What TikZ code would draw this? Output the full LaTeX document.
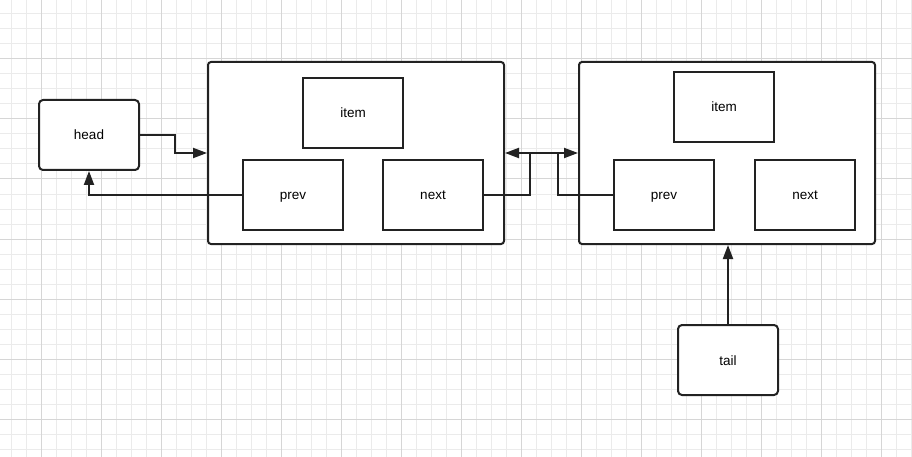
\documentclass[tikz,border=0pt]{standalone}
\usepackage{fontspec}
\setmainfont{Liberation Sans}
\usetikzlibrary{arrows.meta}

\definecolor{gridminor}{HTML}{EBEBEB}
\definecolor{gridmajor}{HTML}{D6D6D6}
\definecolor{ink}{HTML}{222222}

\tikzset{
  cell/.style={draw=ink,fill=white,line width=2pt,minimum width=100pt,minimum height=70pt,inner sep=0pt,
    text height=12pt,text depth=2pt,font=\fontsize{13.5}{15}\selectfont},
  ends/.style={cell,rounded corners=4pt},
  frame/.style={draw=ink,fill=white,line width=2pt,minimum width=296pt,minimum height=182pt,inner sep=0pt,rounded corners=3pt},
  link/.style={draw=ink,line width=2pt,-{Triangle[length=14pt,width=10pt]}}
}

\begin{document}
\begin{tikzpicture}[x=1pt,y=-1pt]
        \useasboundingbox (0,0) rectangle (912,457);
        \fill[white] (0,0) rectangle (912,457);
        % grid
        \foreach \gx in {11,26,...,911} \draw[gridminor,line width=1pt] (\gx,0) -- (\gx,457);
        \foreach \gy in {14,29,...,456} \draw[gridminor,line width=1pt] (0,\gy) -- (912,\gy);
        \foreach \gx in {41,101,...,911} \draw[gridmajor,line width=1pt] (\gx,0) -- (\gx,457);
        \foreach \gy in {59,119,...,456} \draw[gridmajor,line width=1pt] (0,\gy) -- (912,\gy);

        \node[frame] (box1) at (356,153) {};
        \node[frame] (box2) at (727,153) {};
        \node[ends] (head) at (89,135) {head};
        \node[ends] (tail) at (728,360) {tail};
        \node[cell] (item1) at (353,113) {item};
        \node[cell] (prev1) at (293,195) {prev};
        \node[cell] (next1) at (433,195) {next};
        \node[cell] (item2) at (724,107) {item};
        \node[cell] (prev2) at (664,195) {prev};
        \node[cell] (next2) at (805,195) {next};

        \draw[link] (head.east) -- ++(35,0) |- (box1.west);
        \draw[link] (prev1.west) -| (head.south);
        \draw[link] (next1.east) -- ++(46,0) |- (box2.west);
        \draw[link] (prev2.west) -- ++(-55,0) |- (box1.east);
        \draw[link] (tail.north) -- (tail.north |- box2.south);
    \end{tikzpicture}
\end{document}
